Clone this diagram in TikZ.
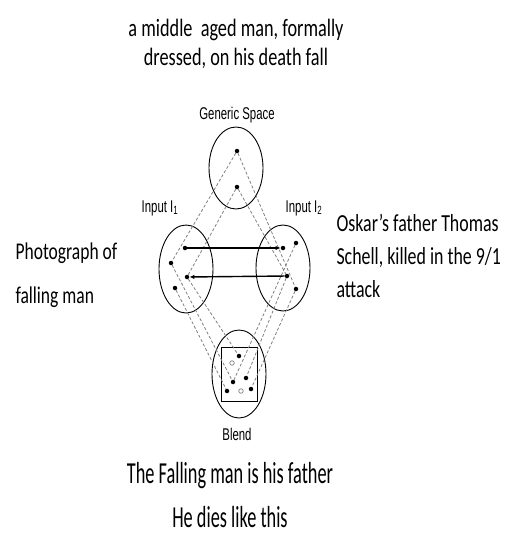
\documentclass[tikz,border=0pt]{standalone}
\usepackage{fontspec}
\setmainfont{Carlito}
\newfontfamily\calA[FakeStretch=0.73]{Carlito}
\newfontfamily\calB[FakeStretch=0.6]{Carlito}
\newfontfamily\arl[FakeStretch=0.67]{Liberation Sans}
\usetikzlibrary{shapes.geometric,arrows.meta}

\begin{document}
\begin{tikzpicture}[x=1pt, y=-1pt,
    S/.style={ellipse, draw, line width=0.9pt, minimum width=54pt,
              minimum height=86pt, inner sep=0pt},
    P/.style={circle, fill, inner sep=0pt, minimum size=4.5pt},
    O/.style={circle, draw=gray, line width=0.7pt, inner sep=0pt, minimum size=4.5pt},
    L/.style={draw=gray, dash pattern=on 3pt off 2pt, line width=0.8pt},
    A/.style={-{Latex[length=5pt,width=4.5pt]}, line width=1.4pt},
    lb/.style={font=\arl\fontsize{17}{17}\selectfont}]
  \useasboundingbox (0,0) rectangle (506,536);

  % --- Uzaylar ---
  \node[S, minimum height=82pt] (gen) at (236,168) {};
  \node[S, minimum height=88pt] (inA) at (186,269) {};
  \node[S, minimum height=86pt] (inB) at (283,268) {};
  \node[S, minimum height=88pt] (bld) at (239,374) {};
  \node[draw, line width=0.9pt, minimum width=36pt, minimum height=54pt] (box) at (239,374) {};

  % --- Etiketler ---
  \node[lb] (genl) at (237,115) {Generic Space};
  \node[lb] (inAl) at (160,208) {Input I\textsubscript{1}};
  \node[lb] (inBl) at (304,208) {Input I\textsubscript{2}};
  \node[lb] (bldl) at (237,434) {Blend};

  % --- Noktalar ---
  \node[P] (g1) at (237,151) {}; \node[P] (g2) at (237,187) {};
  \node[P] (a1) at (185,248) {}; \node[P] (a2) at (171,263) {};
  \node[P] (a3) at (187,277) {}; \node[P] (a4) at (175,288) {};
  \node[P] (b1) at (283,248) {}; \node[P] (b2) at (296,243) {};
  \node[P] (b3) at (287,276) {}; \node[P] (b4) at (296,289) {};
  \node[P] (c1) at (239,356) {}; \node[P] (c2) at (233,382) {};
  \node[P] (c3) at (246,378) {}; \node[P] (c4) at (227,391) {};
  \node[P] (c5) at (251,389) {};
  \node[O] (o1) at (232,363) {}; \node[O] (o2) at (241,391) {};

  % --- Kesikli eslemeler ---
  \draw[L] (g1) -- (a2); \draw[L] (g2) -- (a3);
  \draw[L] (g1) -- (b4); \draw[L] (g2) -- (b3);
  \draw[L] (a4) -- (c4); \draw[L] (a2) -- (c2); \draw[L] (a3) -- (c1);
  \draw[L] (b4) -- (c5); \draw[L] (b3) -- (c3); \draw[L] (b2) -- (c2);

  % --- Oklar ---
  \draw[A] (a1) -- (b1);
  \draw[A] (b3) -- (a3);

  % --- Metinler (anchor = son satirin tabani) ---
  \node[font=\calA\fontsize{25}{29}\selectfont, align=center, anchor=base] (topt) at (236,65)
    {a middle~ aged man, formally\\dressed, on his death fall};
  \node[font=\calA\fontsize{24}{44}\selectfont, align=left, anchor=base west] (leftt) at (12,303)
    {Photograph of\\falling man};
  \node[font=\calA\fontsize{24.5}{33}\selectfont, align=left, anchor=base west] (rightt) at (333,297)
    {Oskar’s father Thomas\\Schell, killed in the 9/1\\attack};
  \node[font=\calB\fontsize{30.5}{44}\selectfont, align=center, anchor=base] (bott) at (230,527)
    {The Falling man is his father\\He dies like this};
\end{tikzpicture}
\end{document}
